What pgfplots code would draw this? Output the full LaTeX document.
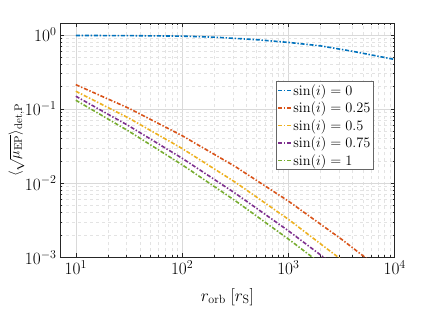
\documentclass[border=0pt]{standalone}
\usepackage{pgfplots}
\pgfplotsset{compat=1.18}
\definecolor{c1}{rgb}{0,0.447,0.741}
\definecolor{c2}{rgb}{0.85,0.325,0.098}
\definecolor{c3}{rgb}{0.929,0.694,0.125}
\definecolor{c4}{rgb}{0.494,0.184,0.556}
\definecolor{c5}{rgb}{0.466,0.674,0.188}
\tikzset{dd/.style={line width=1.6pt, dash pattern=on 4pt off 1.8pt on 1.4pt off 1.8pt}}
\begin{document}
\begin{tikzpicture}
\useasboundingbox (0,0) rectangle (436pt,313pt);
\begin{axis}[
  at={(60pt,55.7pt)}, anchor=south west,
  scale only axis, width=334.7pt, height=234pt,
  xmode=log, ymode=log,
  xmin=7.1, xmax=1e4, ymin=1e-3, ymax=1.43,
  xtick={10,100,1000,10000},
  ytick={1e-3,1e-2,1e-1,1},
  grid=both,
  major grid style={gray!30, line width=0.5pt},
  minor grid style={gray!22, dashed, line width=0.4pt},
  axis line style={black!85, line width=0.7pt},
  tick style={black!85, line width=0.5pt},
  major tick length=4pt, minor tick length=2pt,
  tick label style={font=\fontsize{17}{19}\selectfont},
  xlabel={$r_{\mathrm{orb}}\;[r_{\mathrm{S}}]$},
  ylabel={$\langle\sqrt{\mu_{\mathrm{EP}}}\rangle_{\mathrm{det},\mathrm{P}}$},
  label style={font=\fontsize{17}{20}\selectfont},
  xlabel style={at={(axis description cs:0.5,-0.17)}, anchor=center},
  ylabel style={at={(axis description cs:-0.130,0.5)}, anchor=center, font=\fontsize{15.5}{18}\selectfont},
  legend style={at={(axis description cs:0.936,0.753)}, anchor=north east,
    font=\fontsize{15.5}{17}\selectfont, draw=black!60, fill=white,
    line width=0.6pt, inner xsep=1pt, inner ysep=1.5pt,
    nodes={inner sep=1.5pt}, row sep=2.2pt},
  legend cell align=left,
  legend image code/.code={\draw[#1] (0pt,0pt) -- (13pt,0pt);},
]
\addplot[c1, dd] coordinates {(10,0.98) (30,0.975) (100,0.96) (200,0.93) (500,0.86) (1000,0.79) (2000,0.71) (4000,0.60) (10000,0.465)};
\addlegendentry{$\sin(i)=0$}
\addplot[c2, dd] coordinates {(10,0.2128) (31.62,0.1020) (100,0.04369) (316.2,0.01673) (1000,0.005722) (3162,0.001750) (5623,0.000928)};
\addlegendentry{$\sin(i)=0.25$}
\addplot[c3, dd] coordinates {(10,0.1734) (31.62,0.07516) (100,0.02933) (316.2,0.010297) (1000,0.003252) (3162,0.000924)};
\addlegendentry{$\sin(i)=0.5$}
\addplot[c4, dd] coordinates {(10,0.1486) (31.62,0.05907) (100,0.02165) (316.2,0.00731) (1000,0.002276) (2512,0.000844)};
\addlegendentry{$\sin(i)=0.75$}
\addplot[c5, dd] coordinates {(10,0.1312) (31.62,0.05004) (100,0.01769) (316.2,0.005798) (1000,0.001762) (1995,0.000832)};
\addlegendentry{$\sin(i)=1$}
\end{axis}
\end{tikzpicture}
\end{document}
